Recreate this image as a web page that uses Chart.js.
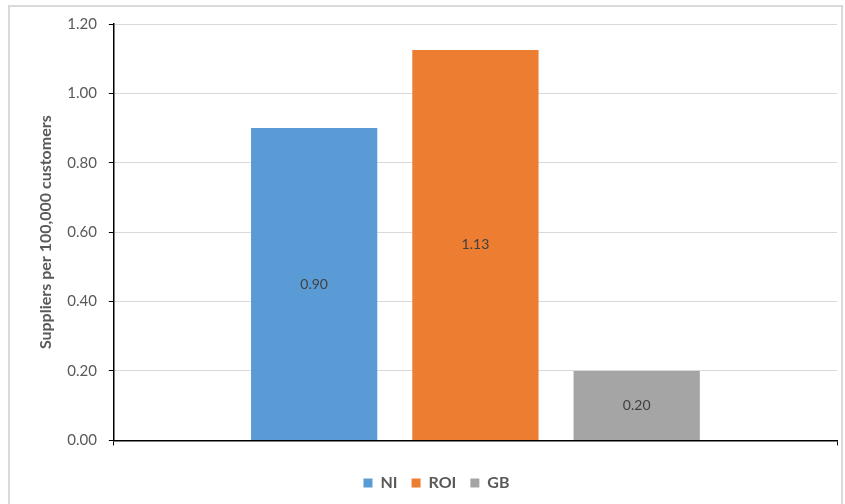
<!DOCTYPE html>
<html>
<head>
<meta charset="utf-8">
<script src="https://cdn.jsdelivr.net/npm/chart.js@4.4.0/dist/chart.umd.min.js"></script>
<style>
  html, body { margin: 0; padding: 0; background: #fff; }
  #wrap { width: 845px; height: 504px; position: relative; }
</style>
</head>
<body>
<div id="wrap"><canvas id="chart" width="845" height="504"></canvas></div>
<script>
// Data
const categories = [""];
const seriesNames = ["NI", "ROI", "GB"];
const seriesValues = [[0.90], [1.125], [0.20]];
const seriesLabels = ["0.90", "1.13", "0.20"];
const seriesColors = ["#5b9bd5", "#ed7d31", "#a5a5a5"];
const yTicks = [0, 0.2, 0.4, 0.6, 0.8, 1.0, 1.2];

const FONT = "Lato, 'Open Sans', sans-serif";
const GREY = "#595959";

// white background + outer frame
const framePlugin = {
  id: "frame",
  beforeDraw(chart) {
    const c = chart.ctx;
    c.save();
    c.fillStyle = "#fff";
    c.fillRect(0, 0, chart.width, chart.height);
    c.strokeStyle = "#d9d9d9";
    c.lineWidth = 2;
    c.strokeRect(9, 6, 833, 520);
    c.restore();
  }
};

// value labels in the middle of each bar
const barLabels = {
  id: "barLabels",
  afterDatasetsDraw(chart) {
    const c = chart.ctx;
    c.save();
    c.font = "14px " + FONT;
    c.fillStyle = "#404040";
    c.textAlign = "center";
    c.textBaseline = "middle";
    chart.data.datasets.forEach((ds, i) => {
      chart.getDatasetMeta(i).data.forEach(bar => {
        c.fillText(seriesLabels[i], bar.x, (bar.y + bar.base) / 2);
      });
    });
    c.restore();
  }
};

const ctx = document.getElementById("chart").getContext("2d");
new Chart(ctx, {
  type: "bar",
  data: {
    labels: categories,
    datasets: seriesNames.map((name, i) => ({
      label: name,
      data: seriesValues[i],
      backgroundColor: seriesColors[i],
      categoryPercentage: 0.669,
      barPercentage: 0.783
    }))
  },
  options: {
    responsive: false,
    animation: false,
    layout: { padding: { top: 24, right: 8, left: 36, bottom: 3 } },
    plugins: {
      legend: {
        position: "bottom",
        labels: {
          boxWidth: 9, boxHeight: 9, padding: 14,
          color: GREY,
          font: { family: FONT, size: 16, weight: "bold" }
        }
      },
      tooltip: { enabled: false }
    },
    scales: {
      x: {
        grid: { drawOnChartArea: false, color: "#000", tickLength: 5 },
        border: { color: "#000", width: 1.5 },
        ticks: { display: true, font: { size: 8 } }
      },
      y: {
        min: 0, max: 1.2,
        afterBuildTicks(axis) { axis.ticks = yTicks.map(v => ({ value: v })); },
        grid: { color: "#d9d9d9", tickColor: "#000", tickLength: 5, lineWidth: 1 },
        border: { color: "#000", width: 1.5 },
        ticks: {
          color: GREY, padding: 12,
          font: { family: FONT, size: 15 },
          callback: v => v.toFixed(2)
        },
        title: {
          display: true,
          text: "Suppliers per 100,000 customers",
          color: GREY,
          padding: { top: 0, bottom: 0 },
          font: { family: FONT, size: 16, weight: "bold" }
        }
      }
    }
  },
  plugins: [framePlugin, barLabels]
});
</script>
</body>
</html>
